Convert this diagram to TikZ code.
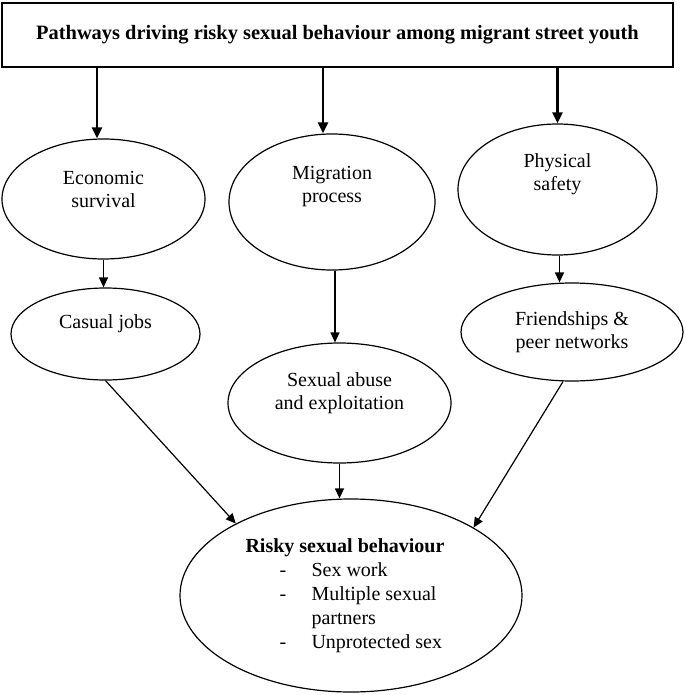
\documentclass[tikz,border=0pt]{standalone}
\usepackage{fontspec}
\setmainfont{Liberation Serif}
\usetikzlibrary{arrows.meta,shapes.geometric}

\newcommand{\dashitem}[1]{\hspace*{17pt}\makebox[16pt][l]{-}#1}

\begin{document}
\begin{tikzpicture}[x=0.5pt,y=-0.5pt,font=\fontsize{10}{11.5}\selectfont,
 oval/.style={draw,ellipse,line width=0.6pt,align=center,inner sep=1pt},
 headbox/.style={draw,line width=1pt,minimum width=335.5pt,minimum height=32pt,font=\fontsize{10.2}{12}\selectfont\bfseries},
 bigarr/.style={-{Triangle[length=5.5pt,width=5pt]},line width=1.3pt},
 arr/.style={-{Triangle[length=5pt,width=4.5pt]},line width=0.6pt}]
\useasboundingbox (0,0) rectangle (685,695);
\node[headbox] (title) at (337.5,35) {Pathways driving risky sexual behaviour among migrant street youth};
\node[oval,minimum width=101.5pt,minimum height=60pt,text depth=10pt] (econ) at (103.5,199) {Economic\\survival};
\node[oval,minimum width=103pt,minimum height=68pt,text depth=17.5pt] (migr) at (332,202) {Migration\\process};
\node[oval,minimum width=99.5pt,minimum height=65.5pt,text depth=17pt] (phys) at (557.5,189.5) {Physical\\safety};
\node[oval,minimum width=94.5pt,minimum height=46pt,text depth=12pt] (casual) at (105.5,334) {Casual jobs};
\node[oval,minimum width=111pt,minimum height=49pt] (friend) at (572,332) {Friendships \&\\peer networks};
\node[oval,minimum width=111.5pt,minimum height=60pt,text depth=11.5pt] (abuse) at (339.5,403) {Sexual abuse\\and exploitation};
\node[oval,minimum width=171pt,minimum height=96.5pt,align=left,font=\fontsize{10}{12}\selectfont] (risky) at (351,595.5)
 {\textbf{Risky sexual behaviour}\hspace*{6pt}\\\dashitem{Sex work}\\\dashitem{Multiple sexual}\\\hspace*{33pt}partners\\\dashitem{Unprotected sex}};
\draw[bigarr] ([xshift=-3.25pt]econ.north |- title.south) -- ([xshift=-3.25pt]econ.north);
\draw[bigarr] ([xshift=-4.5pt]migr.north |- title.south) -- ([xshift=-4.5pt]migr.north);
\draw[bigarr] (phys.north |- title.south) -- (phys.north);
\draw[arr] (econ.south) -- (econ.south |- casual.north);
\draw[arr] ([xshift=1.5pt]migr.south) -- ([xshift=1.5pt]migr.south |- abuse.north);
\draw[arr] ([xshift=1pt]phys.south) -- ([xshift=1pt]phys.south |- friend.north);
\draw[arr] (abuse.south) -- (abuse.south |- risky.north);
\draw[arr] (casual.south) -- (risky.148);
\draw[arr] ([xshift=-4.5pt]friend.south) -- (risky.29);
\end{tikzpicture}
\end{document}
